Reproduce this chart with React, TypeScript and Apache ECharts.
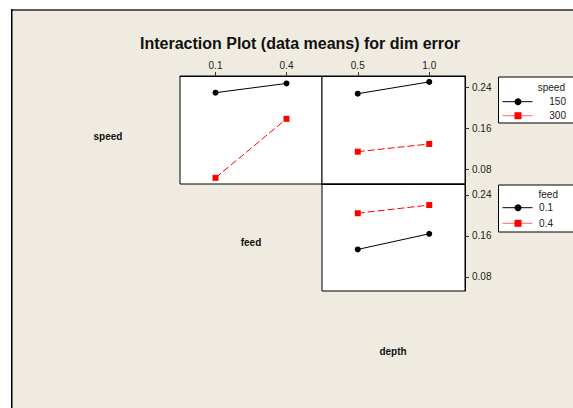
import React, { useEffect, useRef } from "react";
import * as echarts from "echarts";

const feedLevels = ["0.1", "0.4"];
const depthLevels = ["0.5", "1.0"];
const speedLevels = ["150", "300"];
const feedLegend = ["0.1", "0.4"];
// speed x feed
const speed150ByFeed = [0.229, 0.247];
const speed300ByFeed = [0.063, 0.178];
// speed x depth
const speed150ByDepth = [0.227, 0.25];
const speed300ByDepth = [0.114, 0.129];
// feed x depth
const feed01ByDepth = [0.1335, 0.164];
const feed04ByDepth = [0.204, 0.22];
const yTicks = [0.08, 0.16, 0.24];

const FONT = "Liberation Sans";
const RED = "#FF0000";

export default function App() {
  const ref = useRef<HTMLDivElement>(null);
  useEffect(() => {
    if (!ref.current) return;
    const chart = echarts.init(ref.current, undefined, { renderer: "svg" });
    const catAxis = (gridIndex: number, data: string[], showLabels: boolean) => ({
      type: "category",
      gridIndex,
      data,
      position: "top",
      boundaryGap: true,
      axisLine: { show: true, lineStyle: { color: "#000", width: 1 } },
      axisTick: {
        show: showLabels,
        alignWithLabel: true,
        inside: false,
        length: 4,
        lineStyle: { color: "#333" },
      },
      axisLabel: {
        show: showLabels,
        margin: 6,
        fontFamily: FONT,
        fontSize: 10,
        color: "#222",
      },
      splitLine: { show: false },
    });
    const valAxis = (gridIndex: number, min: number, max: number, show: boolean) => ({
      type: "value",
      gridIndex,
      min,
      max,
      position: "right",
      axisLine: { show: show, lineStyle: { color: "#000", width: 1 } },
      axisTick: {
        show,
        length: 4,
        customValues: yTicks,
        lineStyle: { color: "#333" },
      },
      axisLabel: {
        show,
        margin: 7,
        customValues: yTicks,
        fontFamily: FONT,
        fontSize: 10,
        color: "#222",
        formatter: (v: number) => v.toFixed(2),
      },
      splitLine: { show: false },
    });
    const blackSeries = (idx: number, data: number[], name: string) => ({
      type: "line",
      name,
      xAxisIndex: idx,
      yAxisIndex: idx,
      data,
      symbol: "circle",
      symbolSize: 6,
      itemStyle: { color: "#000" },
      lineStyle: { color: "#000", width: 1 },
    });
    const redSeries = (idx: number, data: number[], name: string) => ({
      type: "line",
      name,
      xAxisIndex: idx,
      yAxisIndex: idx,
      data,
      symbol: "rect",
      symbolSize: 6,
      itemStyle: { color: RED },
      lineStyle: { color: RED, width: 1, type: [7, 3] },
    });
    const legendBox = (
      x: number,
      y: number,
      h: number,
      title: string,
      titleRight: number,
      labels: string[],
      labelRight: number,
      titleY: number,
      rowY: number[]
    ) => [
      {
        type: "rect",
        shape: { x, y, width: 120, height: h },
        style: { fill: "#fff", stroke: "#000", lineWidth: 1 },
      },
      {
        type: "text",
        x: titleRight,
        y: titleY,
        style: {
          text: title,
          align: "right",
          verticalAlign: "middle",
          font: `10px "${FONT}"`,
          fill: "#222",
        },
      },
      {
        type: "line",
        shape: { x1: x + 4, y1: rowY[0], x2: x + 34, y2: rowY[0] },
        style: { stroke: "#000", lineWidth: 1 },
      },
      {
        type: "circle",
        shape: { cx: x + 19.5, cy: rowY[0], r: 3.5 },
        style: { fill: "#000" },
      },
      {
        type: "line",
        shape: { x1: x + 4, y1: rowY[1], x2: x + 34, y2: rowY[1] },
        style: { stroke: "#FF6B6B", lineWidth: 1 },
      },
      {
        type: "rect",
        shape: { x: x + 16, y: rowY[1] - 3.5, width: 7, height: 7 },
        style: { fill: RED },
      },
      {
        type: "text",
        x: labelRight,
        y: rowY[0],
        style: {
          text: labels[0],
          align: "right",
          verticalAlign: "middle",
          font: `10px "${FONT}"`,
          fill: "#222",
        },
      },
      {
        type: "text",
        x: labelRight,
        y: rowY[1],
        style: {
          text: labels[1],
          align: "right",
          verticalAlign: "middle",
          font: `10px "${FONT}"`,
          fill: "#222",
        },
      },
    ];
    const factorLabel = (text: string, x: number, y: number) => ({
      type: "text",
      x,
      y,
      style: {
        text,
        align: "center",
        verticalAlign: "middle",
        font: `bold 10px "${FONT}"`,
        fill: "#111",
      },
    });
    const option = {
      animation: false,
      backgroundColor: "#EFEBE0",
      title: {
        text: "Interaction Plot (data means) for dim error",
        left: 295,
        top: 30,
        textAlign: "center",
        textStyle: {
          fontFamily: FONT,
          fontSize: 16,
          fontWeight: "bold",
          color: "#111",
        },
      },
      grid: [
        { left: 180, top: 76, width: 142, height: 108, show: true, backgroundColor: "#fff", borderColor: "#000", borderWidth: 1 },
        { left: 322, top: 76, width: 143, height: 108, show: true, backgroundColor: "#fff", borderColor: "#000", borderWidth: 1 },
        { left: 322, top: 184, width: 143, height: 107, show: true, backgroundColor: "#fff", borderColor: "#000", borderWidth: 1 },
      ],
      xAxis: [
        catAxis(0, feedLevels, true),
        catAxis(1, depthLevels, true),
        catAxis(2, depthLevels, false),
      ],
      yAxis: [
        valAxis(0, 0.051, 0.2615, false),
        valAxis(1, 0.051, 0.2615, true),
        valAxis(2, 0.0525, 0.261, true),
      ],
      series: [
        blackSeries(0, speed150ByFeed, "speed 150"),
        redSeries(0, speed300ByFeed, "speed 300"),
        blackSeries(1, speed150ByDepth, "speed 150"),
        redSeries(1, speed300ByDepth, "speed 300"),
        blackSeries(2, feed01ByDepth, "feed 0.1"),
        redSeries(2, feed04ByDepth, "feed 0.4"),
      ],
      graphic: [
        { type: "rect", shape: { x: 0, y: 0, width: 573, height: 9 }, style: { fill: "#fff" }, silent: true },
        { type: "rect", shape: { x: 0, y: 0, width: 11, height: 408 }, style: { fill: "#fff" }, silent: true },
        { type: "rect", shape: { x: 11, y: 9, width: 562, height: 2 }, style: { fill: "#5A5A5A" }, silent: true },
        { type: "rect", shape: { x: 11, y: 9, width: 1.5, height: 399 }, style: { fill: "#000" }, silent: true },
        factorLabel("speed", 108, 136),
        factorLabel("feed", 251, 242),
        factorLabel("depth", 393, 351),
        ...legendBox(498.5, 77, 46, "speed", 565, speedLevels, 566, 87.5, [101.7, 115.7]),
        ...legendBox(498.5, 185, 47, "feed", 558, feedLegend, 553, 194.5, [207.7, 223.3]),
      ],
    };
    chart.setOption(option as any);
    return () => chart.dispose();
  }, []);
  return (
    <div
      ref={ref}
      style={{ position: "fixed", left: 0, top: 0, width: 573, height: 408 }}
    />
  );
}
